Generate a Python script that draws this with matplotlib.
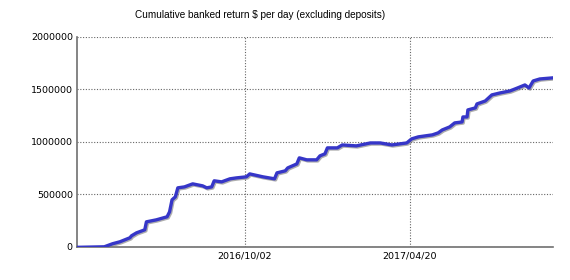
import matplotlib
matplotlib.use("Agg")
import matplotlib.pyplot as plt
import matplotlib.patheffects as pe
import numpy as np

title = "Cumulative banked return $ per day (excluding deposits)"

dates = [
    "2016-03-14", "2016-04-15", "2016-04-25", "2016-05-04", "2016-05-16", "2016-05-18",
    "2016-05-24", "2016-06-03", "2016-06-05", "2016-06-17", "2016-06-30", "2016-07-03",
    "2016-07-06", "2016-07-10", "2016-07-13", "2016-07-21", "2016-07-31", "2016-08-12",
    "2016-08-17", "2016-08-23", "2016-08-26", "2016-09-04", "2016-09-14", "2016-09-22",
    "2016-10-04", "2016-10-08", "2016-10-24", "2016-11-07", "2016-11-10", "2016-11-20",
    "2016-11-23", "2016-12-04", "2016-12-07", "2016-12-16", "2016-12-28", "2017-01-01",
    "2017-01-07", "2017-01-10", "2017-01-22", "2017-01-28", "2017-02-14", "2017-03-03",
    "2017-03-15", "2017-03-29", "2017-04-16", "2017-04-22", "2017-04-30", "2017-05-17",
    "2017-05-24", "2017-05-29", "2017-06-07", "2017-06-13", "2017-06-22", "2017-06-23",
    "2017-06-28", "2017-06-29", "2017-07-08", "2017-07-10", "2017-07-20", "2017-07-28",
    "2017-08-07", "2017-08-19", "2017-08-28", "2017-09-06", "2017-09-11", "2017-09-16",
    "2017-09-24", "2017-10-09",
]
values = [
    -5000, 0, 29000, 48000, 86000, 105000,
    133000, 162000, 238000, 257000, 286000, 333000,
    448000, 476000, 562000, 571000, 600000, 581000,
    562000, 571000, 629000, 619000, 648000, 657000,
    667000, 695000, 667000, 648000, 705000, 724000,
    752000, 790000, 848000, 829000, 829000, 867000,
    886000, 943000, 943000, 971000, 962000, 990000,
    990000, 971000, 990000, 1029000, 1048000, 1067000,
    1086000, 1114000, 1143000, 1181000, 1190000, 1238000,
    1238000, 1305000, 1324000, 1362000, 1390000, 1448000,
    1467000, 1486000, 1514000, 1543000, 1514000, 1581000,
    1600000, 1610000,
]
y_ticks = [0, 500000, 1000000, 1500000, 2000000]
y_tick_labels = ["0", "500000", "1000000", "1500000", "2000000"]
x_ticks = ["2016-10-02", "2017-04-20"]
x_tick_labels = ["2016/10/02", "2017/04/20"]

x = np.array(dates, dtype="datetime64[D]")
y = np.array(values)

fig = plt.figure(figsize=(5.7, 2.8), dpi=100)
ax = fig.add_axes([77/570, 1-247/280, (553-77)/570, (247-37)/280])

ax.plot(x, y, color="#3636c8", lw=2.4, solid_joinstyle="round",
        path_effects=[pe.SimpleLineShadow(offset=(0.8, -0.8), shadow_color="#777777", alpha=0.6),
                      pe.Normal()], zorder=3)

ax.set_ylim(0 - 2000, 2000000)
ax.set_xlim(np.datetime64("2016-03-13"), np.datetime64("2017-10-10"))

ax.set_yticks(y_ticks)
ax.set_yticklabels(y_tick_labels)
ax.set_xticks(np.array(x_ticks, dtype="datetime64[D]"))
ax.set_xticklabels(x_tick_labels)
ax.tick_params(length=0, pad=3, labelsize=6.8, colors="black")

ax.grid(True, linestyle=(0, (1, 1.5)), color="#666666", linewidth=0.8)
ax.set_axisbelow(True)
for s in ["top", "right"]:
    ax.spines[s].set_visible(False)
for s in ["left", "bottom"]:
    ax.spines[s].set_color("#707070")
    ax.spines[s].set_linewidth(1.2)

fig.text(260/570, 1-15/280, title, ha="center", va="center",
         fontsize=7.2, family="Liberation Sans", color="black")

fig.savefig("out.png", dpi=100)
